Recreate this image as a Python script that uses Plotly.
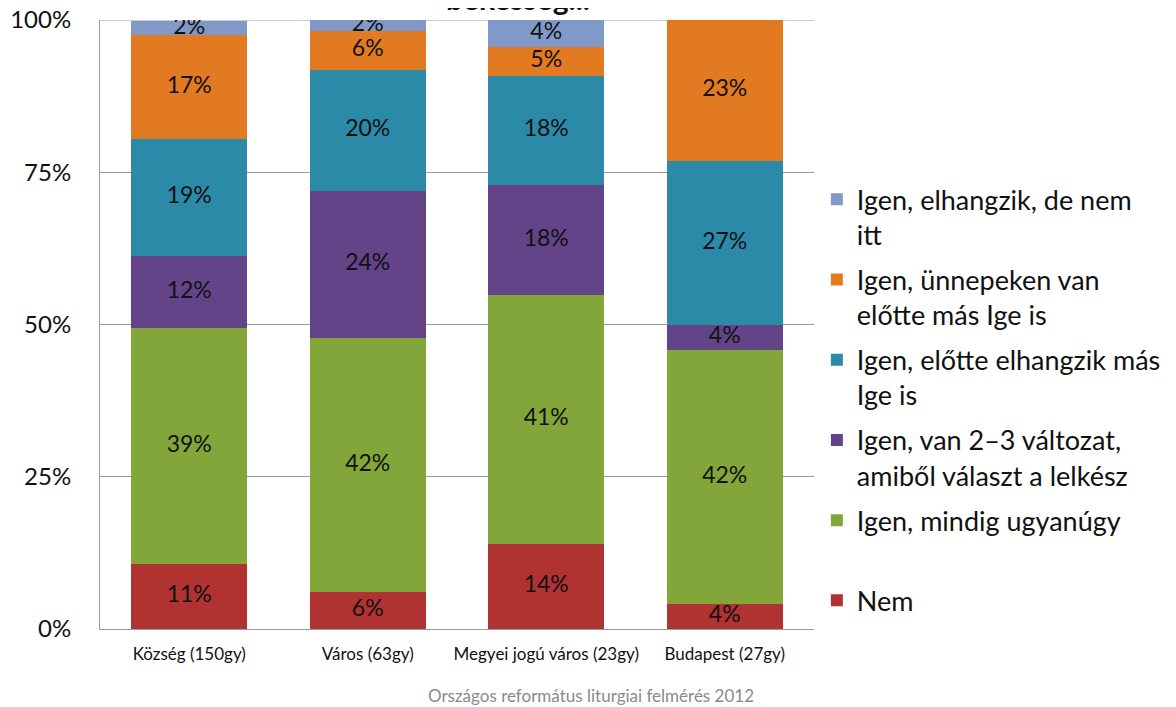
import plotly.graph_objects as go
import numpy as np

categories = ["Község (150gy)", "Város (63gy)", "Megyei jogú város (23gy)", "Budapest (27gy)"]

series_names = [
    "Nem",
    "Igen, mindig ugyanúgy",
    "Igen, van 2–3 változat,<br>amiből választ a lelkész",
    "Igen, előtte elhangzik más<br>Ige is",
    "Igen, ünnepeken van<br>előtte más Ige is",
    "Igen, elhangzik, de nem<br>itt",
]
nem = [10.7, 6.1, 14.0, 4.1]
mindig = [38.7, 41.7, 40.8, 41.7]
valtozat = [11.8, 24.1, 18.1, 4.1]
elotte = [19.3, 19.9, 17.9, 26.9]
unnep = [17.0, 6.4, 4.8, 23.2]
nemitt = [2.4, 1.8, 4.4, 0.0]

y_ticks = [0, 25, 50, 75, 100]
y_tick_labels = ["0%", "25%", "50%", "75%", "100%"]

values = [nem, mindig, valtozat, elotte, unnep, nemitt]
colors = ["#B03331", "#83A63A", "#634488", "#2A8AA8", "#E27A22", "#8199C9"]

FONT = "Lato"
GRID = "#9a9a9a"

fig = go.Figure()
n = len(series_names)
for k, (name, vals, col) in enumerate(zip(series_names, values, colors)):
    label = name if "<br>" in name else name + "<br> "
    fig.add_trace(go.Bar(
        x=categories, y=vals, name=label, legendgroup=f"g{k}",
        legendrank=(n - k) * 10,
        marker=dict(color=col, line=dict(width=0)), width=0.65,
    ))

# labels at segment midpoints
arr = np.array(values)
cum = np.cumsum(arr, axis=0)
for i in range(arr.shape[0]):
    mids = cum[i] - arr[i] / 2
    texts = [f"{round(v):.0f}%" if v > 0 else "" for v in arr[i]]
    fig.add_trace(go.Scatter(
        x=categories, y=mids, text=texts, mode="text", showlegend=False,
        textfont=dict(family=FONT, size=23, color="#111111"), hoverinfo="skip",
    ))

fig.update_layout(
    barmode="stack",
    width=1168, height=699,
    margin=dict(l=92, r=362, t=12, b=78, autoexpand=False),
    plot_bgcolor="white", paper_bgcolor="white",
    font=dict(family=FONT, color="#111111"),
    legend=dict(
        traceorder="grouped", x=1.004, y=0.745, xanchor="left", yanchor="top",
        font=dict(family=FONT, size=27, color="#111111"), valign="top",
        itemwidth=30, tracegroupgap=7,
    ),
    showlegend=True,
)
fig.update_yaxes(
    range=[0, 100], tickvals=y_ticks, ticktext=y_tick_labels,
    showgrid=True, gridcolor=GRID, gridwidth=1,
    showline=True, linecolor=GRID, linewidth=1,
    tickfont=dict(family=FONT, size=24, color="#111111"), ticks="",
    zeroline=False, automargin=False, ticklabeloverflow="allow",
    ticklabelstandoff=23,
)
fig.update_xaxes(
    showline=True, linecolor=GRID, linewidth=1,
    tickfont=dict(family=FONT, size=17, color="#111111"), ticks="",
    automargin=False, ticklabelstandoff=10,
)

# top gridline at 100%
fig.add_shape(type="line", xref="paper", yref="y", x0=0, x1=1, y0=100, y1=100,
              line=dict(color=GRID, width=1), layer="below")

fig.add_annotation(
    text="<b>békesség...</b>", xref="paper", yref="paper", x=0.585, y=1.004,
    xanchor="center", yanchor="bottom", showarrow=False,
    font=dict(family=FONT, size=30, color="#111111"),
)
fig.add_annotation(
    text="Országos református liturgiai felmérés 2012", xref="paper", yref="paper",
    x=0.687, y=-0.11, xanchor="center", yanchor="middle", showarrow=False,
    font=dict(family=FONT, size=17, color="#8a8a8a"),
)

fig.write_html("out.html")
